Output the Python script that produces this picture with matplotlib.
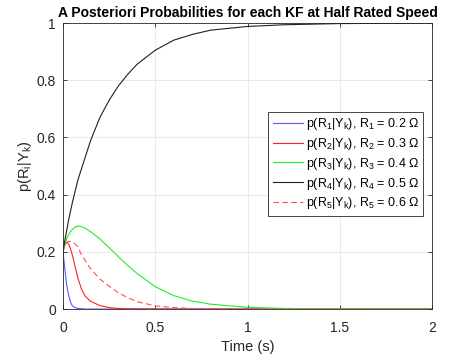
import matplotlib
matplotlib.use("Agg")
import matplotlib.pyplot as plt

plt.rcParams['font.family'] = ['Liberation Sans', 'DejaVu Sans']
plt.rcParams['mathtext.fontset'] = 'custom'
plt.rcParams['mathtext.rm'] = 'Liberation Sans'
plt.rcParams['mathtext.it'] = 'Liberation Sans'

# Temps (s) et probabilités a posteriori
temps = [0, 0.005, 0.01, 0.02, 0.03, 0.04, 0.05, 0.065, 0.08, 0.1, 0.12, 0.15,
         0.2, 0.25, 0.3, 0.35, 0.4, 0.5, 0.6, 0.7, 0.8, 1.0, 1.2, 1.5, 2.0]
p_r1 = [0.2, 0.17, 0.14, 0.085, 0.05, 0.025, 0.012, 0.005, 0.002, 0.001, 0, 0,
        0, 0, 0, 0, 0, 0, 0, 0, 0, 0, 0, 0, 0]
p_r2 = [0.2, 0.214, 0.225, 0.234, 0.228, 0.212, 0.19, 0.15, 0.11, 0.07, 0.045, 0.027,
        0.012, 0.005, 0.002, 0.001, 0.0005, 0, 0, 0, 0, 0, 0, 0, 0]
p_r3 = [0.2, 0.213, 0.225, 0.245, 0.26, 0.27, 0.278, 0.286, 0.29, 0.288, 0.283, 0.27,
        0.245, 0.215, 0.183, 0.153, 0.125, 0.078, 0.047, 0.028, 0.017, 0.006, 0.002, 0.0005, 0]
p_r4 = [0.2, 0.22, 0.24, 0.275, 0.31, 0.34, 0.37, 0.41, 0.45, 0.49, 0.53, 0.59,
        0.67, 0.73, 0.78, 0.82, 0.855, 0.905, 0.94, 0.96, 0.975, 0.988, 0.994, 0.998, 1.0]
p_r5 = [0.2, 0.212, 0.222, 0.233, 0.236, 0.236, 0.233, 0.228, 0.218, 0.19, 0.17, 0.14,
        0.105, 0.08, 0.057, 0.04, 0.026, 0.011, 0.005, 0.002, 0.001, 0.0003, 0, 0, 0]
resistances = ['0.2', '0.3', '0.4', '0.5', '0.6']

fig = plt.figure(figsize=(4.51, 3.54), dpi=100)
ax = fig.add_axes([0.1397, 0.127, 0.8183, 0.808])

series = [p_r1, p_r2, p_r3, p_r4, p_r5]
couleurs = ['#5a5aff', '#ff2020', '#22ee22', '#202020', '#ff5050']
styles = ['-', '-', '-', '-', (0, (5, 3))]
for i, (vals, c, ls) in enumerate(zip(series, couleurs, styles)):
    label = r'p(R$_{%d}$|Y$_k$), R$_{%d}$ = %s $\Omega$' % (i + 1, i + 1, resistances[i])
    ax.plot(temps, vals, color=c, linestyle=ls, linewidth=0.8, label=label)

ax.set_xlim(0, 2)
ax.set_ylim(0, 1)
ax.set_xticks([0, 0.5, 1, 1.5, 2])
ax.set_xticklabels(['0', '0.5', '1', '1.5', '2'])
ax.set_yticks([0, 0.2, 0.4, 0.6, 0.8, 1])
ax.set_yticklabels(['0', '0.2', '0.4', '0.6', '0.8', '1'])
ax.grid(True, color='#e6e6e6', linewidth=0.6)
ax.set_axisbelow(True)
ax.tick_params(direction='in', length=3, width=0.6, colors='#262626',
               labelsize=10, top=True, right=True, labeltop=False, labelright=False)
ax.tick_params(axis='x', pad=8.5)
ax.tick_params(axis='y', pad=5)
for s in ax.spines.values():
    s.set_color('#262626')
    s.set_linewidth(0.6)

ax.set_xlabel('Time (s)', fontsize=10.5, color='#262626', labelpad=4)
ax.set_ylabel(r'p(R$_i$|Y$_k$)', fontsize=10.5, color='#262626', labelpad=2)
ax.set_title('A Posteriori Probabilities for each KF at Half Rated Speed',
             fontsize=10, fontweight='bold', pad=4)

leg = ax.legend(loc='upper left', bbox_to_anchor=(0.556, 0.689), fontsize=9,
                handlelength=2.4, handletextpad=0.25, labelspacing=0.3,
                borderpad=0.35, borderaxespad=0,
                fancybox=False, framealpha=1, edgecolor='#262626')
leg.get_frame().set_linewidth(0.6)

fig.savefig('out.png', dpi=100)
